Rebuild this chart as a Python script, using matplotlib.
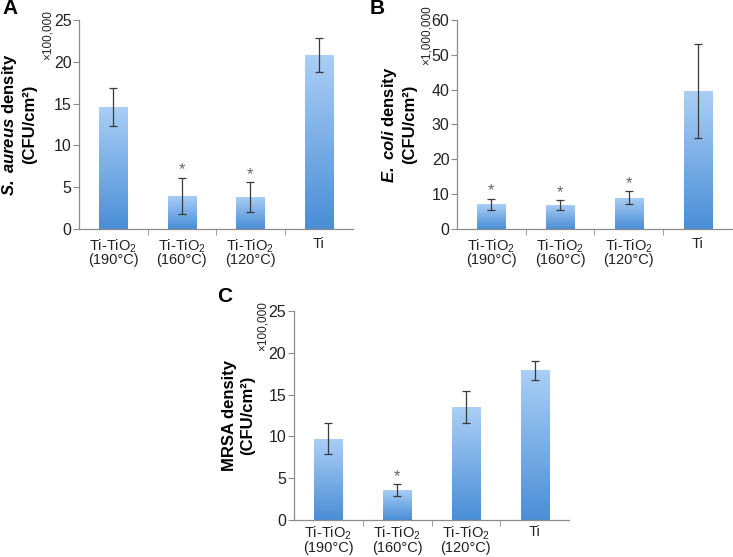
import numpy as np
import matplotlib.pyplot as plt
from matplotlib.colors import LinearSegmentedColormap

plt.rcParams['font.family'] = ['Liberation Sans', 'DejaVu Sans']
plt.rcParams['mathtext.fontset'] = 'custom'
plt.rcParams['mathtext.rm'] = 'Liberation Sans'
plt.rcParams['mathtext.it'] = 'Liberation Sans:italic'
plt.rcParams['mathtext.bf'] = 'Liberation Sans:bold'
plt.rcParams['mathtext.bfit'] = 'Liberation Sans:bold:italic'

categories = ["Ti-TiO$_2$\n(190°C)", "Ti-TiO$_2$\n(160°C)", "Ti-TiO$_2$\n(120°C)", "Ti"]

# panel A: S. aureus (x100,000)
sa_mean = [14.6, 4.0, 3.85, 20.8]
sa_err = [2.25, 2.15, 1.8, 2.0]
sa_star = [False, True, True, False]

# panel B: E. coli (x1,000,000)
ec_mean = [7.1, 6.9, 9.0, 39.5]
ec_err = [1.65, 1.4, 1.8, 13.5]
ec_star = [True, True, True, False]

# panel C: MRSA (x100,000)
mr_mean = [9.7, 3.6, 13.5, 17.9]
mr_err = [1.85, 0.7, 1.9, 1.1]
mr_star = [False, True, False, False]

grad = LinearSegmentedColormap.from_list("bar", ["#4a8ed6", "#abcff6"])
axis_col = "#8c8c8c"


def panel(fig, rect, means, errs, stars, ymax, step, ylabel, mult, xpad, lab_x, mult_x):
    ax = fig.add_axes(rect)
    x = np.arange(len(means))
    w = 0.41
    bars = ax.bar(x, means, width=w, color="none", edgecolor="none", zorder=2)
    g = np.linspace(0, 1, 256).reshape(-1, 1)
    for b in bars:
        im = ax.imshow(g, cmap=grad, origin="lower", aspect="auto",
                       extent=[b.get_x(), b.get_x() + b.get_width(), 0, b.get_height()],
                       zorder=2)
        im.set_clip_path(b)
    ax.errorbar(x, means, yerr=errs, fmt="none", ecolor="#3a3a3a",
                elinewidth=0.9, capsize=3, capthick=0.9, zorder=3)
    for xi, m, e, s in zip(x, means, errs, stars):
        if s:
            ax.text(xi, m + e, "*", ha="center", va="bottom",
                    fontsize=12, color="#666666")
    ax.set_xlim(-0.5, len(means) - 0.5)
    ax.set_ylim(0, ymax)
    ax.set_yticks(np.arange(0, ymax + 0.1, step))
    ax.set_xticks(x)
    ax.set_xticklabels(categories, fontsize=10.5, color="#222222", linespacing=0.85)
    ax.set_xticks(np.arange(0.5, len(means) - 0.5, 1), minor=True)
    ax.tick_params(axis="x", which="major", length=0, pad=xpad)
    ax.tick_params(axis="x", which="minor", length=4, color=axis_col)
    ax.tick_params(axis="y", length=4, pad=1.5, color=axis_col, labelsize=11.5,
                   labelcolor="#222222")
    for sp in ["top", "right"]:
        ax.spines[sp].set_visible(False)
    for sp in ["left", "bottom"]:
        ax.spines[sp].set_color(axis_col)
        ax.spines[sp].set_linewidth(0.9)
    ax.set_ylabel(ylabel, fontsize=12, fontweight="bold", linespacing=1.25)
    ax.yaxis.set_label_coords(lab_x, 0.5)
    ax.text(mult_x, 0.93, mult, transform=ax.transAxes, rotation=90,
            ha="center", va="center", fontsize=8.5, color="#222222")
    return ax


fig = plt.figure(figsize=(7.33, 5.57), dpi=100)
panel(fig, [0.1078, 0.5889, 0.3738, 0.3752], sa_mean, sa_err, sa_star, 25, 5,
      "$\\mathbfit{S.\\ aureus}$ density\n(CFU/cm²)", "×100,000", 6, -0.153, -0.113)
panel(fig, [0.6235, 0.5889, 0.3751, 0.3752], ec_mean, ec_err, ec_star, 60, 10,
      "$\\mathbfit{E.\\ coli}$ density\n(CFU/cm²)", "×1,000,000", 6, -0.145, -0.109)
panel(fig, [0.4011, 0.0664, 0.3752, 0.3752], mr_mean, mr_err, mr_star, 25, 5,
      "MRSA density\n(CFU/cm²)", "×100,000", 3.5, -0.142, -0.113)

fig.text(2 / 733, 1 - 8 / 557, "A", fontsize=15, fontweight="bold", ha="left", va="center")
fig.text(370 / 733, 1 - 8 / 557, "B", fontsize=15, fontweight="bold", ha="left", va="center")
fig.text(217 / 733, 1 - 297 / 557, "C", fontsize=15, fontweight="bold", ha="left", va="center")

fig.savefig("out.png", dpi=100)
